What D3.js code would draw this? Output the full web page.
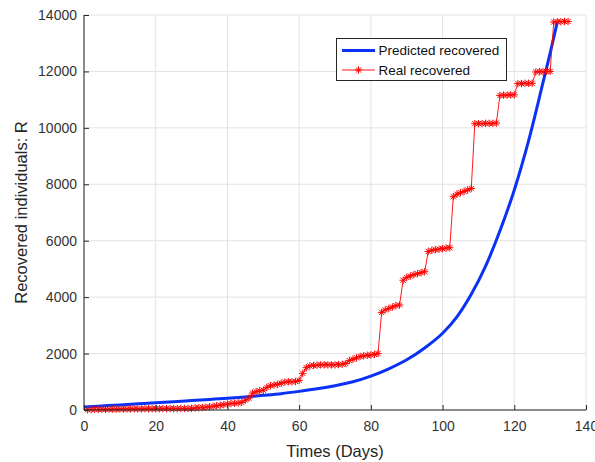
<!DOCTYPE html>
<html><head><meta charset="utf-8">
<script src="https://cdn.jsdelivr.net/npm/d3@7"></script>
<style>
body{margin:0;background:#fff;}
text{font-family:"Liberation Sans",Arial,sans-serif;}
</style></head>
<body><svg id="c" width="595" height="462"></svg>
<script>
const xTicks = [0,20,40,60,80,100,120,140];
const yTicks = [0,2000,4000,6000,8000,10000,12000,14000];

const predDays = [0,5,10,15,20,25,30,35,40,45,50,55,60,65,70,75,80,85,90,95,100,104,108,112,116,120,124,128,130,132];
const predVals = [110,145,180,220,260,295,335,375,415,465,520,580,660,750,860,1000,1200,1460,1780,2200,2720,3300,4100,5100,6350,7800,9550,11600,12650,13750];

const realDays = d3.range(1,136);
const realVals = [
 10,15,20,20,25,25,30,30,30,35, 35,35,40,40,40,40,45,45,45,45,
 45,50,50,50,50,50,55,55,55,60, 70,80,90,100,110,130,150,170,190,210,
 230,240,250,270,350,420,600,650,680,700, 800,860,890,910,950,990,1000,1000,1010,1050,
 1300,1500,1560,1580,1590,1600,1600,1600,1600,1600, 1610,1620,1650,1750,1800,1850,1900,1920,1940,1950,
 1970,2000,3460,3550,3600,3650,3700,3720,4600,4700, 4750,4800,4830,4870,4900,5620,5660,5680,5700,5720,
 5740,5750,7560,7650,7700,7750,7800,7850,10150,10150, 10150,10160,10160,10160,10170,11150,11160,11160,11170,11170,
 11570,11570,11580,11580,11580,11980,11990,11990,12000,12000, 13750,13760,13760,13770,13770
];

const svg = d3.select('#c');
const x = d3.scaleLinear().domain([0,140]).range([84,586]);
const y = d3.scaleLinear().domain([0,14000]).range([410,15]);

// grid
svg.append('g').selectAll('line').data(xTicks).join('line')
  .attr('x1',d=>x(d)).attr('x2',d=>x(d)).attr('y1',y(0)).attr('y2',y(14000))
  .attr('stroke','#e3e3e3').attr('stroke-width',1);
svg.append('g').selectAll('line').data(yTicks).join('line')
  .attr('x1',x(0)).attr('x2',x(140)).attr('y1',d=>y(d)).attr('y2',d=>y(d))
  .attr('stroke','#e3e3e3').attr('stroke-width',1);

// predicted
svg.append('path')
  .datum(predDays.map((d,i)=>[d,predVals[i]]))
  .attr('d', d3.line().x(d=>x(d[0])).y(d=>y(d[1])).curve(d3.curveMonotoneX))
  .attr('fill','none').attr('stroke','#0a32f5').attr('stroke-width',3);

// real
const realData = realDays.map((d,i)=>[d,realVals[i]]);
svg.append('path').datum(realData)
  .attr('d', d3.line().x(d=>x(d[0])).y(d=>y(d[1])))
  .attr('fill','none').attr('stroke','#ff0000').attr('stroke-width',0.9);
const star = (g, r) => {
  const a = r*0.7071;
  g.append('path').attr('d',`M${-r},0L${r},0M0,${-r}L0,${r}M${-a},${-a}L${a},${a}M${-a},${a}L${a},${-a}`)
   .attr('stroke','#ff0000').attr('stroke-width',1).attr('fill','none');
};
svg.append('g').selectAll('g').data(realData).join('g')
  .attr('transform',d=>`translate(${x(d[0])},${y(d[1])})`)
  .each(function(){ star(d3.select(this), 3.7); });

// axes
const ax = svg.append('g').attr('transform',`translate(0,${y(0)})`)
  .call(d3.axisBottom(x).tickValues(xTicks).tickSizeInner(-5).tickSizeOuter(0).tickPadding(11));
const ay = svg.append('g').attr('transform',`translate(${x(0)},0)`)
  .call(d3.axisLeft(y).tickValues(yTicks).tickSizeInner(-5).tickSizeOuter(0).tickPadding(7).tickFormat(d3.format('d')));
[ax,ay].forEach(a=>{
  a.select('.domain').attr('stroke','#262626');
  a.selectAll('.tick line').attr('stroke','#262626');
  a.selectAll('.tick text').attr('fill','#333').style('font-size','14px').style('font-family','"Liberation Sans",Arial,sans-serif');
});
ax.select('.domain').attr('d',`M${x(0)},0H${x(140)}`);
ay.select('.domain').attr('d',`M0,${y(0)}V${y(14000)}`);

// labels
svg.append('text').attr('x',(x(0)+x(140))/2).attr('y',457).attr('text-anchor','middle')
  .attr('fill','#262626').style('font-size','16.5px').text('Times (Days)');
svg.append('text').attr('transform',`translate(27,${(y(0)+y(14000))/2}) rotate(-90)`)
  .attr('text-anchor','middle').attr('fill','#262626').style('font-size','16.5px').text('Recovered individuals: R');

// legend
const lg = svg.append('g');
lg.append('rect').attr('x',336.5).attr('y',38.5).attr('width',170).attr('height',42)
  .attr('fill','#fff').attr('stroke','#262626').attr('stroke-width',1);
lg.append('line').attr('x1',342).attr('x2',375).attr('y1',50.5).attr('y2',50.5)
  .attr('stroke','#0a32f5').attr('stroke-width',3);
lg.append('line').attr('x1',342).attr('x2',375).attr('y1',70).attr('y2',70)
  .attr('stroke','#ff0000').attr('stroke-width',0.9);
const ls = lg.append('g').attr('transform','translate(358.5,70)'); star(ls,3.7);
lg.append('text').attr('x',378.5).attr('y',55).attr('fill','#111').style('font-size','13.5px').text('Predicted recovered');
lg.append('text').attr('x',378.5).attr('y',75).attr('fill','#111').style('font-size','13.5px').text('Real recovered');
</script></body></html>
